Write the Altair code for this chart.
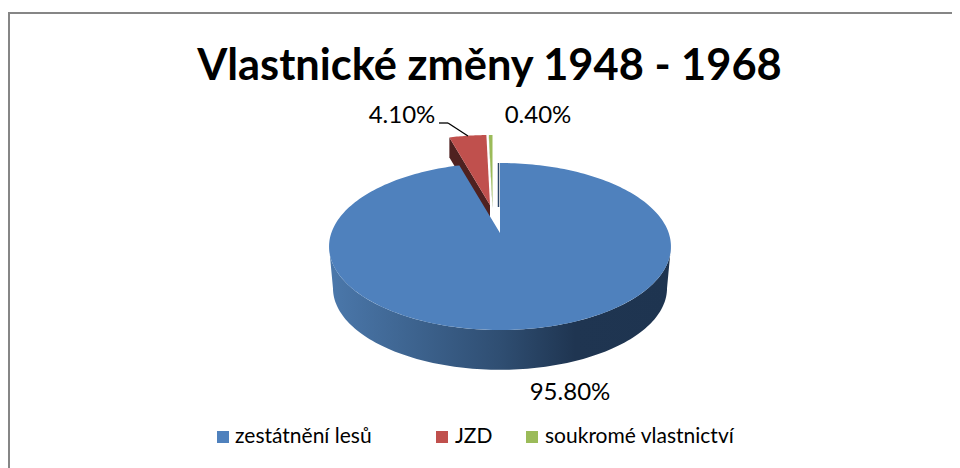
import math
import altair as alt
import pandas as pd

categories = ["zestátnění lesů", "JZD", "soukromé vlastnictví"]
shares = [95.8, 4.1, 0.4]
palette = ["#4f81bd", "#c0504d", "#9bbb59"]
title_text = "Vlastnické změny 1948 - 1968"
FONT = "Lato"

CX, CY, RX, RY, K = 500.0, 233.0, 168.7, 81.3, 0.1617
S, WALL_CY = 0.977, 275.0


def rim(angle, cx=CX, cy=CY, scale=1.0):
    a = math.radians(angle)
    u, v = math.sin(a), math.cos(a)
    w = 1 + K * v
    return cx + scale * RX * u / w, cy - scale * RY * v / w


def sweep(a0, a1, n, **kw):
    return [rim(a0 + (a1 - a0) * i / n, **kw) for i in range(n + 1)]


def poly(points):
    return pd.DataFrame({"x": [p[0] for p in points], "y": [p[1] for p in points], "i": range(len(points))})


X = alt.X("x:Q", scale=alt.Scale(domain=[8, 952], nice=False, zero=False), axis=None)
Y = alt.Y("y:Q", scale=alt.Scale(domain=[468, 8], nice=False, zero=False), axis=None)


def shape(points, fill):
    return (
        alt.Chart(poly(points))
        .mark_line(filled=True, fill=fill, stroke=None, strokeWidth=0, clip=False)
        .encode(x=X, y=Y, order="i:Q")
    )


total = 360.0 / sum(shares)
blue_end = shares[0] * total
red_end = blue_end + shares[1] * total
green_end = red_end + shares[2] * total

# blue slice
blue_top = [(CX, CY)] + sweep(0, blue_end, 240)
A_R = math.degrees(math.acos(-K))
A_L = 360 - A_R
wall = sweep(A_R, A_L, 120) + sweep(A_L, A_R, 120, cy=WALL_CY, scale=S)
wall_fill = alt.Gradient(
    gradient="linear", x1=0, x2=1, y1=0, y2=0,
    stops=[
        alt.GradientStop(offset=0.0, color="#4b78ab"),
        alt.GradientStop(offset=0.5, color="#2f4e72"),
        alt.GradientStop(offset=0.72, color="#1f3551"),
        alt.GradientStop(offset=1.0, color="#1e3450"),
    ],
)

# exploded slices
RDX, RDY, GDX, GDY, DEPTH = -10.0, -28.0, -7.5, -28.0, 20.0
red_top = [(CX + RDX, CY + RDY)] + sweep(blue_end, red_end, 20, cx=CX + RDX, cy=CY + RDY)
red_face = [red_top[0], red_top[1], (red_top[1][0], red_top[1][1] + DEPTH), (red_top[0][0], red_top[0][1] + DEPTH)]
green_top = [(CX + GDX, CY + GDY)] + sweep(red_end, green_end, 4, cx=CX + GDX, cy=CY + GDY)
green_face = [green_top[0], green_top[1], (green_top[1][0], green_top[1][1] + 3), (green_top[0][0], green_top[0][1] + 3)]


def px(v):
    return alt.value(v - 8)


def anchor():
    return alt.Chart(poly([(0, 0)]))


def rule(x0, y0, x1, y1, color, width):
    return anchor().mark_rule(color=color, strokeWidth=width).encode(
        x=px(x0), x2=px(x1), y=px(y0), y2=px(y1)
    )


def label(text, x, y, size=24, align="center", weight="normal", baseline="middle"):
    return anchor().mark_text(
        text=text, font=FONT, fontSize=size, fontWeight=weight, color="#000000",
        align=align, baseline=baseline,
    ).encode(x=px(x), y=px(y))


legend_layers = []
for name, colour, sx, tx in zip(categories, palette, [223, 442, 532], [235, 455, 545]):
    legend_layers.append(
        anchor().mark_square(size=144, color=colour, filled=True, opacity=1).encode(x=px(sx), y=px(437))
    )
    legend_layers.append(label(name, tx, 437, size=21, align="left"))

chart = alt.layer(
    rule(8, 13, 952, 13, "#868686", 2),
    rule(9, 13, 9, 468, "#868686", 2),
    shape(red_face, "#4f2120"),
    shape(red_top, palette[1]),
    shape(green_face, "#4e5e2c"),
    shape(green_top, palette[2]),
    rule(498.5, 163, 498.5, 207, "#2b4668", 1.5),
    shape(wall, wall_fill),
    shape(blue_top, palette[0]),
    rule(439, 123, 448, 123, "#000000", 1.3),
    rule(448, 123, 468, 136, "#000000", 1.3),
    label(f"{shares[1]:.2f}%", 402, 116),
    label(f"{shares[2]:.2f}%", 538, 116),
    label(f"{shares[0]:.2f}%", 570, 393),
    label(title_text, 489.5, 80, size=43.4, weight="bold", baseline="alphabetic"),
    *legend_layers,
).properties(
    width=944,
    height=460,
    padding=0,
    autosize=alt.AutoSizeParams(type="none"),
    background="#ffffff",
).configure_view(stroke=None)

chart.save("out.html", embed_options={"renderer": "svg", "actions": False})
